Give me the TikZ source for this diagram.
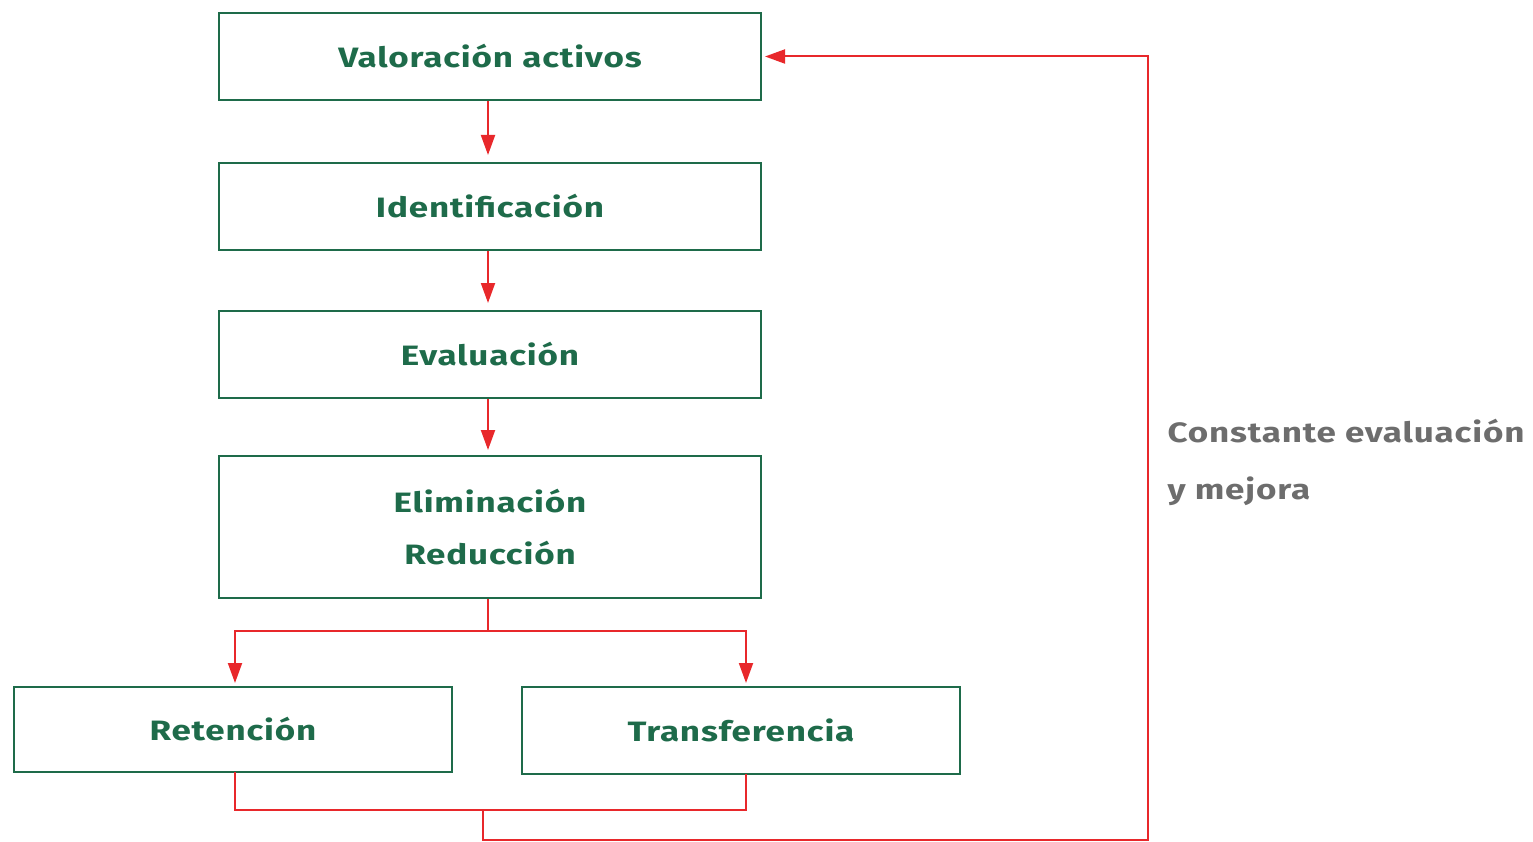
\documentclass[tikz,border=0pt]{standalone}
\usepackage{fontspec}
\setmainfont{Fira Sans}
\newfontfamily\widefont[FakeStretch=1.25,LetterSpace=3]{Fira Sans}
\usetikzlibrary{arrows.meta}
\definecolor{boxgreen}{HTML}{1E6B4A}
\definecolor{linered}{HTML}{E8282B}
\definecolor{labelgray}{HTML}{6D6D6D}
\tikzset{
  stepbox/.style={draw=boxgreen, line width=2pt, rectangle, minimum width=542pt, minimum height=87pt, inner sep=0pt, text=boxgreen, font=\widefont\fontsize{28}{52}\selectfont\bfseries, align=center},
  flow/.style={draw=linered, line width=2pt, -{Triangle[length=20pt,width=14pt]}},
  link/.style={draw=linered, line width=2pt},
}
\begin{document}
\begin{tikzpicture}[x=1pt,y=1pt]
\useasboundingbox (0,0) rectangle (1533,-842);
\node[stepbox] (val) at (490,-56.5) {Valoración activos};
\node[stepbox] (ide) at (490,-206.5) {Identificación};
\node[stepbox] (eva) at (490,-354.5) {Evaluación};
\node[stepbox, minimum height=142pt] (eli) at (490,-527) {Eliminación\\Reducción};
\node[stepbox, minimum width=438pt, minimum height=85pt] (ret) at (233,-729.5) {Retención};
\node[stepbox, minimum width=438pt, minimum height=87pt] (tra) at (741,-730.5) {Transferencia};
\node[anchor=west, text=labelgray, font=\widefont\fontsize{28}{57}\selectfont\bfseries, align=left] (lab) at (1164,-462) {Constante evaluación\\y mejora};

\coordinate (j1) at (488,-631);
\coordinate (rt) at (235,-683);
\coordinate (tt) at (746,-683);
\coordinate (rb) at (235,-772);
\coordinate (tb) at (746,-774);
\coordinate (j2) at (483,-810);
\coordinate (c2) at (483,-840);
\coordinate (c3) at (1148,-840);

\draw[flow, shorten >=7pt] (val.south -| j1) -- (ide.north -| j1);
\draw[flow, shorten >=7pt] (ide.south -| j1) -- (eva.north -| j1);
\draw[flow, shorten >=5pt] (eva.south -| j1) -- (eli.north -| j1);
\draw[link] (eli.south -| j1) -- (j1);
\draw[flow] (j1) -| (rt);
\draw[flow] (j1) -| (tt);
\draw[link] (rb) |- (j2) -| (tb);
\draw[flow, shorten >=3pt] (j2) -- (c2) -- (c3) |- (val.east);
\end{tikzpicture}
\end{document}
